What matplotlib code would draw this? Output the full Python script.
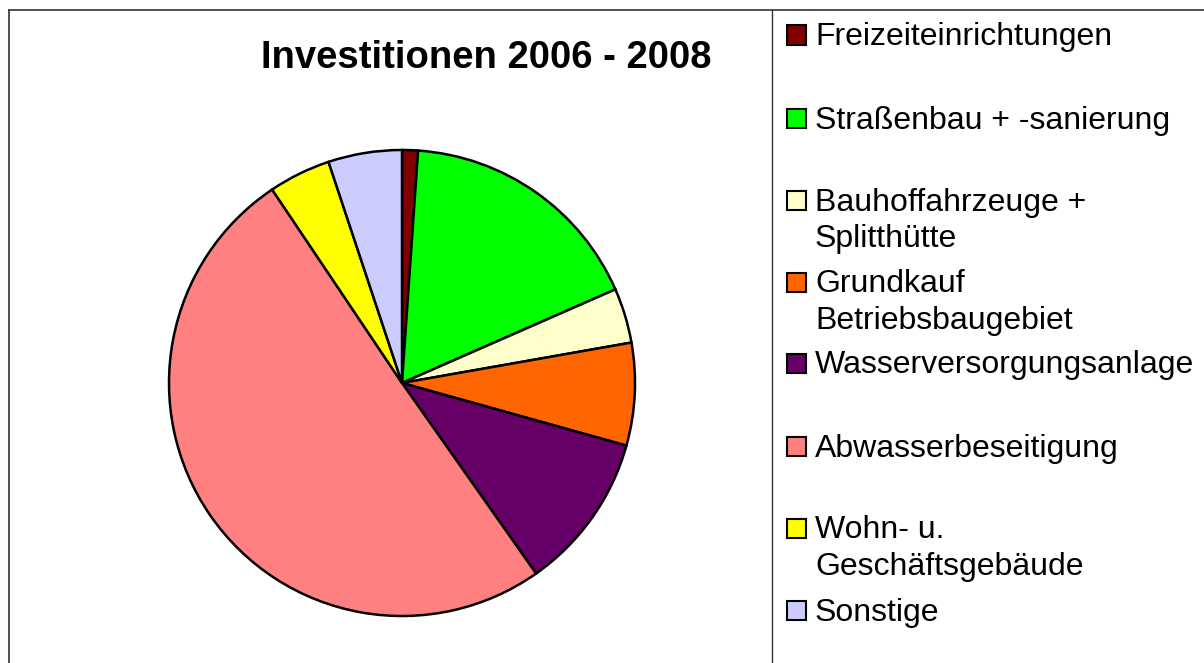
import matplotlib
matplotlib.use("Agg")
import matplotlib.pyplot as plt
from matplotlib.patches import Rectangle
from matplotlib.lines import Line2D

plt.rcParams['font.family'] = ['Liberation Sans', 'DejaVu Sans']

title = "Investitionen 2006 - 2008"
labels = ["Freizeiteinrichtungen", "Straßenbau + -sanierung", "Bauhoffahrzeuge +\nSplitthütte",
          "Grundkauf\nBetriebsbaugebiet", "Wasserversorgungsanlage", "Abwasserbeseitigung",
          "Wohn- u.\nGeschäftsgebäude", "Sonstige"]
values = [1.1, 17.3, 3.8, 7.1, 10.9, 50.3, 4.3, 5.1]
colors = ["#800000", "#00FF00", "#FFFFCC", "#FF6600", "#660066", "#FF8080", "#FFFF00", "#CCCCFF"]

W, H = 1204, 663
fig = plt.figure(figsize=(W / 100, H / 100), dpi=100)

def fx(px):
    return px / W

def fy(py):
    return 1 - py / H

# pie axes
cx, cy, r = 402, 383, 233
ax = fig.add_axes([fx(cx - r), fy(cy + r), 2 * r / W, 2 * r / H])
ax.pie(values, colors=colors, startangle=90, counterclock=False,
       wedgeprops=dict(edgecolor="black", linewidth=1.8))
ax.set_xlim(-1.0, 1.0)
ax.set_ylim(-1.0, 1.0)
ax.set_aspect('equal')
ax.axis('off')

# frame lines
fig.add_artist(Line2D([fx(8.5), fx(W)], [fy(9.5), fy(9.5)], color="#333333", lw=1.2))
fig.add_artist(Line2D([fx(8.5), fx(8.5)], [fy(9.5), fy(H)], color="#333333", lw=1.2))
fig.add_artist(Line2D([fx(771.5), fx(771.5)], [fy(9.5), fy(H)], color="#333333", lw=1.0))

# title
fig.text(fx(486), fy(58), title, ha="center", va="center", fontsize=27.5, fontweight="bold")

# legend
first_line_y = [35, 118, 200, 282, 363, 446, 528, 610]
sq = 19
for lab, col, yy in zip(labels, colors, first_line_y):
    fig.add_artist(Rectangle((fx(787), fy(yy + sq / 2)), sq / W, sq / H, facecolor=col,
                             edgecolor="black", lw=1.5, transform=fig.transFigure))
    for i, line in enumerate(lab.split("\n")):
        fig.text(fx(815), fy(yy + 2.5 + 36 * i), line, ha="left", va="center", fontsize=23)

fig.savefig("out.png", dpi=100)
